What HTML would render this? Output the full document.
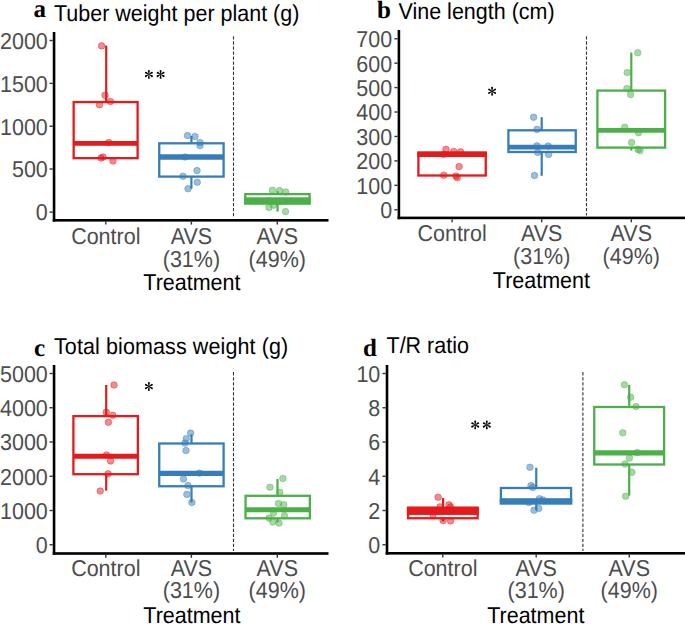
<!DOCTYPE html>
<html><head><meta charset="utf-8"><style>
html,body{margin:0;padding:0;background:#fff;width:685px;height:624px;overflow:hidden}
svg{display:block}
text{text-rendering:geometricPrecision}
</style></head><body>
<svg width="685" height="624" viewBox="0 0 685 624">
<rect width="685" height="624" fill="#fff"/>
<line x1="233.50" y1="36.30" x2="233.50" y2="217.60" stroke="#333333" stroke-width="1.1" stroke-dasharray="3.3 1.75"/>
<line x1="106.20" y1="45.60" x2="106.20" y2="102.05" stroke="#E41A1C" stroke-width="2.2"/>
<rect x="73.65" y="102.05" width="63.95" height="56.10" fill="none" stroke="#E41A1C" stroke-width="2.3"/>
<line x1="73.65" y1="143.30" x2="137.60" y2="143.30" stroke="#E41A1C" stroke-width="4.8"/>
<line x1="191.40" y1="136.00" x2="191.40" y2="143.30" stroke="#377EB8" stroke-width="2.2"/>
<line x1="191.40" y1="176.60" x2="191.40" y2="188.75" stroke="#377EB8" stroke-width="2.2"/>
<rect x="159.25" y="143.30" width="64.35" height="33.30" fill="none" stroke="#377EB8" stroke-width="2.3"/>
<line x1="159.25" y1="157.00" x2="223.60" y2="157.00" stroke="#377EB8" stroke-width="5.4"/>
<line x1="277.50" y1="191.10" x2="277.50" y2="194.10" stroke="#4DAF4A" stroke-width="2.2"/>
<line x1="277.50" y1="203.40" x2="277.50" y2="211.60" stroke="#4DAF4A" stroke-width="2.2"/>
<rect x="245.25" y="194.10" width="64.30" height="9.30" fill="none" stroke="#4DAF4A" stroke-width="2.3"/>
<line x1="245.25" y1="200.00" x2="309.55" y2="200.00" stroke="#4DAF4A" stroke-width="4.8"/>
<rect x="244.10" y="197.60" width="66.60" height="6.95" fill="#4DAF4A"/>
<circle cx="101.60" cy="45.90" r="3.3" fill="#E41A1C" fill-opacity="0.5" stroke="#E41A1C" stroke-opacity="0.5" stroke-width="0.8"/>
<circle cx="105.00" cy="95.25" r="3.3" fill="#E41A1C" fill-opacity="0.5" stroke="#E41A1C" stroke-opacity="0.5" stroke-width="0.8"/>
<circle cx="110.40" cy="101.50" r="3.3" fill="#E41A1C" fill-opacity="0.5" stroke="#E41A1C" stroke-opacity="0.5" stroke-width="0.8"/>
<circle cx="99.50" cy="104.75" r="3.3" fill="#E41A1C" fill-opacity="0.5" stroke="#E41A1C" stroke-opacity="0.5" stroke-width="0.8"/>
<circle cx="108.75" cy="142.50" r="3.3" fill="#E41A1C" fill-opacity="0.5" stroke="#E41A1C" stroke-opacity="0.5" stroke-width="0.8"/>
<circle cx="103.00" cy="157.00" r="3.3" fill="#E41A1C" fill-opacity="0.5" stroke="#E41A1C" stroke-opacity="0.5" stroke-width="0.8"/>
<circle cx="101.00" cy="158.00" r="3.3" fill="#E41A1C" fill-opacity="0.5" stroke="#E41A1C" stroke-opacity="0.5" stroke-width="0.8"/>
<circle cx="113.00" cy="161.00" r="3.3" fill="#E41A1C" fill-opacity="0.5" stroke="#E41A1C" stroke-opacity="0.5" stroke-width="0.8"/>
<circle cx="187.50" cy="135.60" r="3.3" fill="#377EB8" fill-opacity="0.5" stroke="#377EB8" stroke-opacity="0.5" stroke-width="0.8"/>
<circle cx="195.00" cy="136.50" r="3.3" fill="#377EB8" fill-opacity="0.5" stroke="#377EB8" stroke-opacity="0.5" stroke-width="0.8"/>
<circle cx="200.00" cy="142.50" r="3.3" fill="#377EB8" fill-opacity="0.5" stroke="#377EB8" stroke-opacity="0.5" stroke-width="0.8"/>
<circle cx="200.00" cy="145.60" r="3.3" fill="#377EB8" fill-opacity="0.5" stroke="#377EB8" stroke-opacity="0.5" stroke-width="0.8"/>
<circle cx="185.00" cy="157.00" r="3.3" fill="#377EB8" fill-opacity="0.5" stroke="#377EB8" stroke-opacity="0.5" stroke-width="0.8"/>
<circle cx="197.00" cy="170.60" r="3.3" fill="#377EB8" fill-opacity="0.5" stroke="#377EB8" stroke-opacity="0.5" stroke-width="0.8"/>
<circle cx="183.00" cy="176.25" r="3.3" fill="#377EB8" fill-opacity="0.5" stroke="#377EB8" stroke-opacity="0.5" stroke-width="0.8"/>
<circle cx="197.25" cy="182.25" r="3.3" fill="#377EB8" fill-opacity="0.5" stroke="#377EB8" stroke-opacity="0.5" stroke-width="0.8"/>
<circle cx="188.00" cy="188.75" r="3.3" fill="#377EB8" fill-opacity="0.5" stroke="#377EB8" stroke-opacity="0.5" stroke-width="0.8"/>
<circle cx="272.45" cy="190.30" r="3.3" fill="#4DAF4A" fill-opacity="0.5" stroke="#4DAF4A" stroke-opacity="0.5" stroke-width="0.8"/>
<circle cx="279.60" cy="190.60" r="3.3" fill="#4DAF4A" fill-opacity="0.5" stroke="#4DAF4A" stroke-opacity="0.5" stroke-width="0.8"/>
<circle cx="285.70" cy="192.00" r="3.3" fill="#4DAF4A" fill-opacity="0.5" stroke="#4DAF4A" stroke-opacity="0.5" stroke-width="0.8"/>
<circle cx="269.00" cy="207.40" r="3.3" fill="#4DAF4A" fill-opacity="0.5" stroke="#4DAF4A" stroke-opacity="0.5" stroke-width="0.8"/>
<circle cx="273.50" cy="205.20" r="3.3" fill="#4DAF4A" fill-opacity="0.5" stroke="#4DAF4A" stroke-opacity="0.5" stroke-width="0.8"/>
<circle cx="285.50" cy="211.60" r="3.3" fill="#4DAF4A" fill-opacity="0.5" stroke="#4DAF4A" stroke-opacity="0.5" stroke-width="0.8"/>
<circle cx="269.25" cy="201.00" r="3.3" fill="#4DAF4A" fill-opacity="0.5" stroke="#4DAF4A" stroke-opacity="0.5" stroke-width="0.8"/>
<circle cx="279.60" cy="201.50" r="3.3" fill="#4DAF4A" fill-opacity="0.5" stroke="#4DAF4A" stroke-opacity="0.5" stroke-width="0.8"/>
<circle cx="285.00" cy="201.00" r="3.3" fill="#4DAF4A" fill-opacity="0.5" stroke="#4DAF4A" stroke-opacity="0.5" stroke-width="0.8"/>
<rect x="52.75" y="32.00" width="2.60" height="189.60" fill="#000"/>
<rect x="52.75" y="219.00" width="275.75" height="2.60" fill="#000"/>
<line x1="49.55" y1="40.50" x2="52.75" y2="40.50" stroke="#333333" stroke-width="1.4"/>
<text x="47.80" y="48.30" text-anchor="end" fill="#4D4D4D" transform="matrix(1 0 0 1.07 0 -2.842)" style="font-family:&quot;Liberation Sans&quot;,serif;font-size:21.5px;font-weight:normal">2000</text>
<line x1="49.55" y1="83.40" x2="52.75" y2="83.40" stroke="#333333" stroke-width="1.4"/>
<text x="47.80" y="91.20" text-anchor="end" fill="#4D4D4D" transform="matrix(1 0 0 1.07 0 -5.845)" style="font-family:&quot;Liberation Sans&quot;,serif;font-size:21.5px;font-weight:normal">1500</text>
<line x1="49.55" y1="126.25" x2="52.75" y2="126.25" stroke="#333333" stroke-width="1.4"/>
<text x="47.80" y="134.05" text-anchor="end" fill="#4D4D4D" transform="matrix(1 0 0 1.07 0 -8.845)" style="font-family:&quot;Liberation Sans&quot;,serif;font-size:21.5px;font-weight:normal">1000</text>
<line x1="49.55" y1="169.00" x2="52.75" y2="169.00" stroke="#333333" stroke-width="1.4"/>
<text x="47.80" y="176.80" text-anchor="end" fill="#4D4D4D" transform="matrix(1 0 0 1.07 0 -11.837)" style="font-family:&quot;Liberation Sans&quot;,serif;font-size:21.5px;font-weight:normal">500</text>
<line x1="49.55" y1="212.10" x2="52.75" y2="212.10" stroke="#333333" stroke-width="1.4"/>
<text x="47.80" y="219.90" text-anchor="end" fill="#4D4D4D" transform="matrix(1 0 0 1.07 0 -14.854)" style="font-family:&quot;Liberation Sans&quot;,serif;font-size:21.5px;font-weight:normal">0</text>
<line x1="105.80" y1="221.60" x2="105.80" y2="224.60" stroke="#333333" stroke-width="1.4"/>
<line x1="191.40" y1="221.60" x2="191.40" y2="224.60" stroke="#333333" stroke-width="1.4"/>
<line x1="277.30" y1="221.60" x2="277.30" y2="224.60" stroke="#333333" stroke-width="1.4"/>
<text x="105.80" y="243.20" text-anchor="middle" fill="#4D4D4D" transform="matrix(1 0 0 1.07 0 -16.485)" style="font-family:&quot;Liberation Sans&quot;,serif;font-size:21.5px;font-weight:normal">Control</text>
<text x="191.40" y="243.20" text-anchor="middle" fill="#4D4D4D" transform="matrix(1 0 0 1.07 0 -16.485)" style="font-family:&quot;Liberation Sans&quot;,serif;font-size:21.5px;font-weight:normal">AVS</text>
<text x="191.40" y="266.20" text-anchor="middle" fill="#4D4D4D" transform="matrix(1 0 0 1.07 0 -18.095)" style="font-family:&quot;Liberation Sans&quot;,serif;font-size:21.5px;font-weight:normal">(31%)</text>
<text x="277.30" y="243.20" text-anchor="middle" fill="#4D4D4D" transform="matrix(1 0 0 1.07 0 -16.485)" style="font-family:&quot;Liberation Sans&quot;,serif;font-size:21.5px;font-weight:normal">AVS</text>
<text x="277.30" y="266.20" text-anchor="middle" fill="#4D4D4D" transform="matrix(1 0 0 1.07 0 -18.095)" style="font-family:&quot;Liberation Sans&quot;,serif;font-size:21.5px;font-weight:normal">(49%)</text>
<text x="191.90" y="289.10" text-anchor="middle" fill="#000" transform="matrix(1 0 0 1.07 0 -19.698)" style="font-family:&quot;Liberation Sans&quot;,serif;font-size:21.5px;font-weight:normal">Treatment</text>
<text x="33.50" y="17.30" text-anchor="start" fill="#000" style="font-family:&quot;Liberation Serif&quot;,serif;font-size:25px;font-weight:bold">a</text>
<text x="54.00" y="20.00" fill="#000" transform="matrix(1 0 0 1.07 0 -0.861)" style="font-family:&quot;Liberation Sans&quot;,sans-serif;font-size:21.5px;letter-spacing:0px">Tuber weight per plant (g)</text>
<g transform="translate(148.90 74.40)" fill="#000"><path d="M -0.25 0 L -0.95 -3.5 A 0.95 0.95 0 1 1 0.95 -3.5 L 0.25 0 Z" transform="rotate(0)"/><path d="M -0.25 0 L -0.95 -3.5 A 0.95 0.95 0 1 1 0.95 -3.5 L 0.25 0 Z" transform="rotate(60)"/><path d="M -0.25 0 L -0.95 -3.5 A 0.95 0.95 0 1 1 0.95 -3.5 L 0.25 0 Z" transform="rotate(120)"/><path d="M -0.25 0 L -0.95 -3.5 A 0.95 0.95 0 1 1 0.95 -3.5 L 0.25 0 Z" transform="rotate(180)"/><path d="M -0.25 0 L -0.95 -3.5 A 0.95 0.95 0 1 1 0.95 -3.5 L 0.25 0 Z" transform="rotate(240)"/><path d="M -0.25 0 L -0.95 -3.5 A 0.95 0.95 0 1 1 0.95 -3.5 L 0.25 0 Z" transform="rotate(300)"/></g>
<g transform="translate(160.60 74.40)" fill="#000"><path d="M -0.25 0 L -0.95 -3.5 A 0.95 0.95 0 1 1 0.95 -3.5 L 0.25 0 Z" transform="rotate(0)"/><path d="M -0.25 0 L -0.95 -3.5 A 0.95 0.95 0 1 1 0.95 -3.5 L 0.25 0 Z" transform="rotate(60)"/><path d="M -0.25 0 L -0.95 -3.5 A 0.95 0.95 0 1 1 0.95 -3.5 L 0.25 0 Z" transform="rotate(120)"/><path d="M -0.25 0 L -0.95 -3.5 A 0.95 0.95 0 1 1 0.95 -3.5 L 0.25 0 Z" transform="rotate(180)"/><path d="M -0.25 0 L -0.95 -3.5 A 0.95 0.95 0 1 1 0.95 -3.5 L 0.25 0 Z" transform="rotate(240)"/><path d="M -0.25 0 L -0.95 -3.5 A 0.95 0.95 0 1 1 0.95 -3.5 L 0.25 0 Z" transform="rotate(300)"/></g>
<line x1="586.50" y1="36.30" x2="586.50" y2="215.50" stroke="#333333" stroke-width="1.1" stroke-dasharray="3.3 1.75"/>
<rect x="418.40" y="152.70" width="67.35" height="22.80" fill="none" stroke="#E41A1C" stroke-width="2.3"/>
<line x1="418.40" y1="154.60" x2="485.75" y2="154.60" stroke="#E41A1C" stroke-width="4.8"/>
<rect x="417.25" y="151.55" width="69.65" height="5.45" fill="#E41A1C"/>
<line x1="541.70" y1="117.20" x2="541.70" y2="130.30" stroke="#377EB8" stroke-width="2.2"/>
<line x1="541.70" y1="152.00" x2="541.70" y2="175.80" stroke="#377EB8" stroke-width="2.2"/>
<rect x="508.40" y="130.30" width="67.35" height="21.70" fill="none" stroke="#377EB8" stroke-width="2.3"/>
<line x1="508.40" y1="147.10" x2="575.75" y2="147.10" stroke="#377EB8" stroke-width="4.8"/>
<line x1="631.30" y1="52.50" x2="631.30" y2="90.60" stroke="#4DAF4A" stroke-width="2.2"/>
<line x1="631.30" y1="147.60" x2="631.30" y2="150.60" stroke="#4DAF4A" stroke-width="2.2"/>
<rect x="597.40" y="90.60" width="67.70" height="57.00" fill="none" stroke="#4DAF4A" stroke-width="2.3"/>
<line x1="597.40" y1="130.40" x2="665.10" y2="130.40" stroke="#4DAF4A" stroke-width="4.8"/>
<circle cx="446.00" cy="149.40" r="3.3" fill="#E41A1C" fill-opacity="0.5" stroke="#E41A1C" stroke-opacity="0.5" stroke-width="0.8"/>
<circle cx="453.75" cy="151.50" r="3.3" fill="#E41A1C" fill-opacity="0.5" stroke="#E41A1C" stroke-opacity="0.5" stroke-width="0.8"/>
<circle cx="460.60" cy="151.90" r="3.3" fill="#E41A1C" fill-opacity="0.5" stroke="#E41A1C" stroke-opacity="0.5" stroke-width="0.8"/>
<circle cx="443.50" cy="154.40" r="3.3" fill="#E41A1C" fill-opacity="0.5" stroke="#E41A1C" stroke-opacity="0.5" stroke-width="0.8"/>
<circle cx="459.10" cy="166.60" r="3.3" fill="#E41A1C" fill-opacity="0.5" stroke="#E41A1C" stroke-opacity="0.5" stroke-width="0.8"/>
<circle cx="443.75" cy="175.25" r="3.3" fill="#E41A1C" fill-opacity="0.5" stroke="#E41A1C" stroke-opacity="0.5" stroke-width="0.8"/>
<circle cx="457.25" cy="177.75" r="3.3" fill="#E41A1C" fill-opacity="0.5" stroke="#E41A1C" stroke-opacity="0.5" stroke-width="0.8"/>
<circle cx="456.00" cy="176.00" r="3.3" fill="#E41A1C" fill-opacity="0.5" stroke="#E41A1C" stroke-opacity="0.5" stroke-width="0.8"/>
<circle cx="533.60" cy="117.20" r="3.3" fill="#377EB8" fill-opacity="0.5" stroke="#377EB8" stroke-opacity="0.5" stroke-width="0.8"/>
<circle cx="537.00" cy="129.40" r="3.3" fill="#377EB8" fill-opacity="0.5" stroke="#377EB8" stroke-opacity="0.5" stroke-width="0.8"/>
<circle cx="537.00" cy="145.80" r="3.3" fill="#377EB8" fill-opacity="0.5" stroke="#377EB8" stroke-opacity="0.5" stroke-width="0.8"/>
<circle cx="548.30" cy="146.00" r="3.3" fill="#377EB8" fill-opacity="0.5" stroke="#377EB8" stroke-opacity="0.5" stroke-width="0.8"/>
<circle cx="537.80" cy="152.40" r="3.3" fill="#377EB8" fill-opacity="0.5" stroke="#377EB8" stroke-opacity="0.5" stroke-width="0.8"/>
<circle cx="548.60" cy="154.40" r="3.3" fill="#377EB8" fill-opacity="0.5" stroke="#377EB8" stroke-opacity="0.5" stroke-width="0.8"/>
<circle cx="534.50" cy="175.50" r="3.3" fill="#377EB8" fill-opacity="0.5" stroke="#377EB8" stroke-opacity="0.5" stroke-width="0.8"/>
<circle cx="637.75" cy="52.75" r="3.3" fill="#4DAF4A" fill-opacity="0.5" stroke="#4DAF4A" stroke-opacity="0.5" stroke-width="0.8"/>
<circle cx="627.25" cy="72.50" r="3.3" fill="#4DAF4A" fill-opacity="0.5" stroke="#4DAF4A" stroke-opacity="0.5" stroke-width="0.8"/>
<circle cx="626.90" cy="88.50" r="3.3" fill="#4DAF4A" fill-opacity="0.5" stroke="#4DAF4A" stroke-opacity="0.5" stroke-width="0.8"/>
<circle cx="630.60" cy="94.60" r="3.3" fill="#4DAF4A" fill-opacity="0.5" stroke="#4DAF4A" stroke-opacity="0.5" stroke-width="0.8"/>
<circle cx="624.75" cy="127.25" r="3.3" fill="#4DAF4A" fill-opacity="0.5" stroke="#4DAF4A" stroke-opacity="0.5" stroke-width="0.8"/>
<circle cx="638.50" cy="132.75" r="3.3" fill="#4DAF4A" fill-opacity="0.5" stroke="#4DAF4A" stroke-opacity="0.5" stroke-width="0.8"/>
<circle cx="631.60" cy="142.50" r="3.3" fill="#4DAF4A" fill-opacity="0.5" stroke="#4DAF4A" stroke-opacity="0.5" stroke-width="0.8"/>
<circle cx="638.10" cy="149.40" r="3.3" fill="#4DAF4A" fill-opacity="0.5" stroke="#4DAF4A" stroke-opacity="0.5" stroke-width="0.8"/>
<circle cx="640.00" cy="150.60" r="3.3" fill="#4DAF4A" fill-opacity="0.5" stroke="#4DAF4A" stroke-opacity="0.5" stroke-width="0.8"/>
<rect x="397.60" y="30.00" width="2.60" height="189.20" fill="#000"/>
<rect x="397.60" y="216.60" width="287.40" height="2.60" fill="#000"/>
<line x1="394.40" y1="209.75" x2="397.60" y2="209.75" stroke="#333333" stroke-width="1.4"/>
<text x="392.20" y="217.55" text-anchor="end" fill="#4D4D4D" transform="matrix(1 0 0 1.07 0 -14.690)" style="font-family:&quot;Liberation Sans&quot;,serif;font-size:21.5px;font-weight:normal">0</text>
<line x1="394.40" y1="185.32" x2="397.60" y2="185.32" stroke="#333333" stroke-width="1.4"/>
<text x="392.20" y="193.12" text-anchor="end" fill="#4D4D4D" transform="matrix(1 0 0 1.07 0 -12.980)" style="font-family:&quot;Liberation Sans&quot;,serif;font-size:21.5px;font-weight:normal">100</text>
<line x1="394.40" y1="160.89" x2="397.60" y2="160.89" stroke="#333333" stroke-width="1.4"/>
<text x="392.20" y="168.69" text-anchor="end" fill="#4D4D4D" transform="matrix(1 0 0 1.07 0 -11.270)" style="font-family:&quot;Liberation Sans&quot;,serif;font-size:21.5px;font-weight:normal">200</text>
<line x1="394.40" y1="136.46" x2="397.60" y2="136.46" stroke="#333333" stroke-width="1.4"/>
<text x="392.20" y="144.26" text-anchor="end" fill="#4D4D4D" transform="matrix(1 0 0 1.07 0 -9.559)" style="font-family:&quot;Liberation Sans&quot;,serif;font-size:21.5px;font-weight:normal">300</text>
<line x1="394.40" y1="112.03" x2="397.60" y2="112.03" stroke="#333333" stroke-width="1.4"/>
<text x="392.20" y="119.83" text-anchor="end" fill="#4D4D4D" transform="matrix(1 0 0 1.07 0 -7.849)" style="font-family:&quot;Liberation Sans&quot;,serif;font-size:21.5px;font-weight:normal">400</text>
<line x1="394.40" y1="87.60" x2="397.60" y2="87.60" stroke="#333333" stroke-width="1.4"/>
<text x="392.20" y="95.40" text-anchor="end" fill="#4D4D4D" transform="matrix(1 0 0 1.07 0 -6.139)" style="font-family:&quot;Liberation Sans&quot;,serif;font-size:21.5px;font-weight:normal">500</text>
<line x1="394.40" y1="63.17" x2="397.60" y2="63.17" stroke="#333333" stroke-width="1.4"/>
<text x="392.20" y="70.97" text-anchor="end" fill="#4D4D4D" transform="matrix(1 0 0 1.07 0 -4.429)" style="font-family:&quot;Liberation Sans&quot;,serif;font-size:21.5px;font-weight:normal">600</text>
<line x1="394.40" y1="38.74" x2="397.60" y2="38.74" stroke="#333333" stroke-width="1.4"/>
<text x="392.20" y="46.54" text-anchor="end" fill="#4D4D4D" transform="matrix(1 0 0 1.07 0 -2.719)" style="font-family:&quot;Liberation Sans&quot;,serif;font-size:21.5px;font-weight:normal">700</text>
<line x1="452.10" y1="219.20" x2="452.10" y2="222.20" stroke="#333333" stroke-width="1.4"/>
<line x1="541.70" y1="219.20" x2="541.70" y2="222.20" stroke="#333333" stroke-width="1.4"/>
<line x1="631.30" y1="219.20" x2="631.30" y2="222.20" stroke="#333333" stroke-width="1.4"/>
<text x="452.10" y="240.60" text-anchor="middle" fill="#4D4D4D" transform="matrix(1 0 0 1.07 0 -16.303)" style="font-family:&quot;Liberation Sans&quot;,serif;font-size:21.5px;font-weight:normal">Control</text>
<text x="541.70" y="240.60" text-anchor="middle" fill="#4D4D4D" transform="matrix(1 0 0 1.07 0 -16.303)" style="font-family:&quot;Liberation Sans&quot;,serif;font-size:21.5px;font-weight:normal">AVS</text>
<text x="541.70" y="263.20" text-anchor="middle" fill="#4D4D4D" transform="matrix(1 0 0 1.07 0 -17.885)" style="font-family:&quot;Liberation Sans&quot;,serif;font-size:21.5px;font-weight:normal">(31%)</text>
<text x="631.30" y="240.60" text-anchor="middle" fill="#4D4D4D" transform="matrix(1 0 0 1.07 0 -16.303)" style="font-family:&quot;Liberation Sans&quot;,serif;font-size:21.5px;font-weight:normal">AVS</text>
<text x="631.30" y="263.20" text-anchor="middle" fill="#4D4D4D" transform="matrix(1 0 0 1.07 0 -17.885)" style="font-family:&quot;Liberation Sans&quot;,serif;font-size:21.5px;font-weight:normal">(49%)</text>
<text x="541.40" y="287.10" text-anchor="middle" fill="#000" transform="matrix(1 0 0 1.07 0 -19.558)" style="font-family:&quot;Liberation Sans&quot;,serif;font-size:21.5px;font-weight:normal">Treatment</text>
<text x="377.00" y="17.50" text-anchor="start" fill="#000" style="font-family:&quot;Liberation Serif&quot;,serif;font-size:25px;font-weight:bold">b</text>
<text x="398.50" y="18.20" fill="#000" transform="matrix(1 0 0 1.07 0 -0.735)" style="font-family:&quot;Liberation Sans&quot;,sans-serif;font-size:21.5px;letter-spacing:0px">Vine length (cm)</text>
<g transform="translate(492.10 91.20)" fill="#000"><path d="M -0.25 0 L -0.95 -3.5 A 0.95 0.95 0 1 1 0.95 -3.5 L 0.25 0 Z" transform="rotate(0)"/><path d="M -0.25 0 L -0.95 -3.5 A 0.95 0.95 0 1 1 0.95 -3.5 L 0.25 0 Z" transform="rotate(60)"/><path d="M -0.25 0 L -0.95 -3.5 A 0.95 0.95 0 1 1 0.95 -3.5 L 0.25 0 Z" transform="rotate(120)"/><path d="M -0.25 0 L -0.95 -3.5 A 0.95 0.95 0 1 1 0.95 -3.5 L 0.25 0 Z" transform="rotate(180)"/><path d="M -0.25 0 L -0.95 -3.5 A 0.95 0.95 0 1 1 0.95 -3.5 L 0.25 0 Z" transform="rotate(240)"/><path d="M -0.25 0 L -0.95 -3.5 A 0.95 0.95 0 1 1 0.95 -3.5 L 0.25 0 Z" transform="rotate(300)"/></g>
<line x1="233.50" y1="372.10" x2="233.50" y2="551.00" stroke="#333333" stroke-width="1.1" stroke-dasharray="3.3 1.75"/>
<line x1="106.20" y1="385.00" x2="106.20" y2="416.10" stroke="#E41A1C" stroke-width="2.2"/>
<line x1="106.20" y1="474.20" x2="106.20" y2="490.60" stroke="#E41A1C" stroke-width="2.2"/>
<rect x="73.40" y="416.10" width="64.45" height="58.10" fill="none" stroke="#E41A1C" stroke-width="2.3"/>
<line x1="73.40" y1="456.25" x2="137.85" y2="456.25" stroke="#E41A1C" stroke-width="5.2"/>
<line x1="191.50" y1="434.40" x2="191.50" y2="443.50" stroke="#377EB8" stroke-width="2.2"/>
<line x1="191.50" y1="486.25" x2="191.50" y2="502.50" stroke="#377EB8" stroke-width="2.2"/>
<rect x="159.25" y="443.50" width="64.35" height="42.75" fill="none" stroke="#377EB8" stroke-width="2.3"/>
<line x1="159.25" y1="473.40" x2="223.60" y2="473.40" stroke="#377EB8" stroke-width="5.4"/>
<line x1="277.50" y1="479.00" x2="277.50" y2="495.80" stroke="#4DAF4A" stroke-width="2.2"/>
<line x1="277.50" y1="518.30" x2="277.50" y2="522.50" stroke="#4DAF4A" stroke-width="2.2"/>
<rect x="245.55" y="495.80" width="64.30" height="22.50" fill="none" stroke="#4DAF4A" stroke-width="2.3"/>
<line x1="245.55" y1="509.75" x2="309.85" y2="509.75" stroke="#4DAF4A" stroke-width="4.8"/>
<circle cx="114.00" cy="385.00" r="3.3" fill="#E41A1C" fill-opacity="0.5" stroke="#E41A1C" stroke-opacity="0.5" stroke-width="0.8"/>
<circle cx="106.25" cy="412.25" r="3.3" fill="#E41A1C" fill-opacity="0.5" stroke="#E41A1C" stroke-opacity="0.5" stroke-width="0.8"/>
<circle cx="112.75" cy="415.25" r="3.3" fill="#E41A1C" fill-opacity="0.5" stroke="#E41A1C" stroke-opacity="0.5" stroke-width="0.8"/>
<circle cx="108.40" cy="422.25" r="3.3" fill="#E41A1C" fill-opacity="0.5" stroke="#E41A1C" stroke-opacity="0.5" stroke-width="0.8"/>
<circle cx="106.50" cy="455.00" r="3.3" fill="#E41A1C" fill-opacity="0.5" stroke="#E41A1C" stroke-opacity="0.5" stroke-width="0.8"/>
<circle cx="110.60" cy="461.00" r="3.3" fill="#E41A1C" fill-opacity="0.5" stroke="#E41A1C" stroke-opacity="0.5" stroke-width="0.8"/>
<circle cx="108.10" cy="473.75" r="3.3" fill="#E41A1C" fill-opacity="0.5" stroke="#E41A1C" stroke-opacity="0.5" stroke-width="0.8"/>
<circle cx="100.25" cy="491.00" r="3.3" fill="#E41A1C" fill-opacity="0.5" stroke="#E41A1C" stroke-opacity="0.5" stroke-width="0.8"/>
<circle cx="190.60" cy="433.10" r="3.3" fill="#377EB8" fill-opacity="0.5" stroke="#377EB8" stroke-opacity="0.5" stroke-width="0.8"/>
<circle cx="186.25" cy="438.75" r="3.3" fill="#377EB8" fill-opacity="0.5" stroke="#377EB8" stroke-opacity="0.5" stroke-width="0.8"/>
<circle cx="185.00" cy="443.10" r="3.3" fill="#377EB8" fill-opacity="0.5" stroke="#377EB8" stroke-opacity="0.5" stroke-width="0.8"/>
<circle cx="186.00" cy="450.60" r="3.3" fill="#377EB8" fill-opacity="0.5" stroke="#377EB8" stroke-opacity="0.5" stroke-width="0.8"/>
<circle cx="199.40" cy="473.10" r="3.3" fill="#377EB8" fill-opacity="0.5" stroke="#377EB8" stroke-opacity="0.5" stroke-width="0.8"/>
<circle cx="183.50" cy="479.00" r="3.3" fill="#377EB8" fill-opacity="0.5" stroke="#377EB8" stroke-opacity="0.5" stroke-width="0.8"/>
<circle cx="187.90" cy="485.60" r="3.3" fill="#377EB8" fill-opacity="0.5" stroke="#377EB8" stroke-opacity="0.5" stroke-width="0.8"/>
<circle cx="186.90" cy="494.40" r="3.3" fill="#377EB8" fill-opacity="0.5" stroke="#377EB8" stroke-opacity="0.5" stroke-width="0.8"/>
<circle cx="191.90" cy="502.50" r="3.3" fill="#377EB8" fill-opacity="0.5" stroke="#377EB8" stroke-opacity="0.5" stroke-width="0.8"/>
<circle cx="282.90" cy="478.50" r="3.3" fill="#4DAF4A" fill-opacity="0.5" stroke="#4DAF4A" stroke-opacity="0.5" stroke-width="0.8"/>
<circle cx="270.00" cy="487.25" r="3.3" fill="#4DAF4A" fill-opacity="0.5" stroke="#4DAF4A" stroke-opacity="0.5" stroke-width="0.8"/>
<circle cx="279.75" cy="492.25" r="3.3" fill="#4DAF4A" fill-opacity="0.5" stroke="#4DAF4A" stroke-opacity="0.5" stroke-width="0.8"/>
<circle cx="278.50" cy="503.50" r="3.3" fill="#4DAF4A" fill-opacity="0.5" stroke="#4DAF4A" stroke-opacity="0.5" stroke-width="0.8"/>
<circle cx="283.75" cy="504.75" r="3.3" fill="#4DAF4A" fill-opacity="0.5" stroke="#4DAF4A" stroke-opacity="0.5" stroke-width="0.8"/>
<circle cx="273.50" cy="513.10" r="3.3" fill="#4DAF4A" fill-opacity="0.5" stroke="#4DAF4A" stroke-opacity="0.5" stroke-width="0.8"/>
<circle cx="284.40" cy="515.60" r="3.3" fill="#4DAF4A" fill-opacity="0.5" stroke="#4DAF4A" stroke-opacity="0.5" stroke-width="0.8"/>
<circle cx="269.00" cy="518.10" r="3.3" fill="#4DAF4A" fill-opacity="0.5" stroke="#4DAF4A" stroke-opacity="0.5" stroke-width="0.8"/>
<circle cx="272.75" cy="521.90" r="3.3" fill="#4DAF4A" fill-opacity="0.5" stroke="#4DAF4A" stroke-opacity="0.5" stroke-width="0.8"/>
<circle cx="279.00" cy="523.10" r="3.3" fill="#4DAF4A" fill-opacity="0.5" stroke="#4DAF4A" stroke-opacity="0.5" stroke-width="0.8"/>
<rect x="52.75" y="365.00" width="2.60" height="189.80" fill="#000"/>
<rect x="52.75" y="552.20" width="275.75" height="2.60" fill="#000"/>
<line x1="49.55" y1="544.75" x2="52.75" y2="544.75" stroke="#333333" stroke-width="1.4"/>
<text x="47.80" y="552.55" text-anchor="end" fill="#4D4D4D" transform="matrix(1 0 0 1.07 0 -38.140)" style="font-family:&quot;Liberation Sans&quot;,serif;font-size:21.5px;font-weight:normal">0</text>
<line x1="49.55" y1="510.50" x2="52.75" y2="510.50" stroke="#333333" stroke-width="1.4"/>
<text x="47.80" y="518.30" text-anchor="end" fill="#4D4D4D" transform="matrix(1 0 0 1.07 0 -35.742)" style="font-family:&quot;Liberation Sans&quot;,serif;font-size:21.5px;font-weight:normal">1000</text>
<line x1="49.55" y1="476.25" x2="52.75" y2="476.25" stroke="#333333" stroke-width="1.4"/>
<text x="47.80" y="484.05" text-anchor="end" fill="#4D4D4D" transform="matrix(1 0 0 1.07 0 -33.345)" style="font-family:&quot;Liberation Sans&quot;,serif;font-size:21.5px;font-weight:normal">2000</text>
<line x1="49.55" y1="442.00" x2="52.75" y2="442.00" stroke="#333333" stroke-width="1.4"/>
<text x="47.80" y="449.80" text-anchor="end" fill="#4D4D4D" transform="matrix(1 0 0 1.07 0 -30.947)" style="font-family:&quot;Liberation Sans&quot;,serif;font-size:21.5px;font-weight:normal">3000</text>
<line x1="49.55" y1="407.75" x2="52.75" y2="407.75" stroke="#333333" stroke-width="1.4"/>
<text x="47.80" y="415.55" text-anchor="end" fill="#4D4D4D" transform="matrix(1 0 0 1.07 0 -28.550)" style="font-family:&quot;Liberation Sans&quot;,serif;font-size:21.5px;font-weight:normal">4000</text>
<line x1="49.55" y1="373.50" x2="52.75" y2="373.50" stroke="#333333" stroke-width="1.4"/>
<text x="47.80" y="381.30" text-anchor="end" fill="#4D4D4D" transform="matrix(1 0 0 1.07 0 -26.152)" style="font-family:&quot;Liberation Sans&quot;,serif;font-size:21.5px;font-weight:normal">5000</text>
<line x1="105.80" y1="554.80" x2="105.80" y2="557.80" stroke="#333333" stroke-width="1.4"/>
<line x1="191.40" y1="554.80" x2="191.40" y2="557.80" stroke="#333333" stroke-width="1.4"/>
<line x1="277.30" y1="554.80" x2="277.30" y2="557.80" stroke="#333333" stroke-width="1.4"/>
<text x="105.80" y="575.40" text-anchor="middle" fill="#4D4D4D" transform="matrix(1 0 0 1.07 0 -39.739)" style="font-family:&quot;Liberation Sans&quot;,serif;font-size:21.5px;font-weight:normal">Control</text>
<text x="191.40" y="575.40" text-anchor="middle" fill="#4D4D4D" transform="matrix(1 0 0 1.07 0 -39.739)" style="font-family:&quot;Liberation Sans&quot;,serif;font-size:21.5px;font-weight:normal">AVS</text>
<text x="191.40" y="597.70" text-anchor="middle" fill="#4D4D4D" transform="matrix(1 0 0 1.07 0 -41.300)" style="font-family:&quot;Liberation Sans&quot;,serif;font-size:21.5px;font-weight:normal">(31%)</text>
<text x="277.30" y="575.40" text-anchor="middle" fill="#4D4D4D" transform="matrix(1 0 0 1.07 0 -39.739)" style="font-family:&quot;Liberation Sans&quot;,serif;font-size:21.5px;font-weight:normal">AVS</text>
<text x="277.30" y="597.70" text-anchor="middle" fill="#4D4D4D" transform="matrix(1 0 0 1.07 0 -41.300)" style="font-family:&quot;Liberation Sans&quot;,serif;font-size:21.5px;font-weight:normal">(49%)</text>
<text x="191.90" y="622.10" text-anchor="middle" fill="#000" transform="matrix(1 0 0 1.07 0 -43.008)" style="font-family:&quot;Liberation Sans&quot;,serif;font-size:21.5px;font-weight:normal">Treatment</text>
<text x="34.00" y="356.20" text-anchor="start" fill="#000" style="font-family:&quot;Liberation Serif&quot;,serif;font-size:25px;font-weight:bold">c</text>
<text x="54.00" y="353.10" fill="#000" transform="matrix(1 0 0 1.07 0 -24.178)" style="font-family:&quot;Liberation Sans&quot;,sans-serif;font-size:21.5px;letter-spacing:0.1px">Total biomass weight (g)</text>
<g transform="translate(148.90 386.50)" fill="#000"><path d="M -0.25 0 L -0.95 -3.5 A 0.95 0.95 0 1 1 0.95 -3.5 L 0.25 0 Z" transform="rotate(0)"/><path d="M -0.25 0 L -0.95 -3.5 A 0.95 0.95 0 1 1 0.95 -3.5 L 0.25 0 Z" transform="rotate(60)"/><path d="M -0.25 0 L -0.95 -3.5 A 0.95 0.95 0 1 1 0.95 -3.5 L 0.25 0 Z" transform="rotate(120)"/><path d="M -0.25 0 L -0.95 -3.5 A 0.95 0.95 0 1 1 0.95 -3.5 L 0.25 0 Z" transform="rotate(180)"/><path d="M -0.25 0 L -0.95 -3.5 A 0.95 0.95 0 1 1 0.95 -3.5 L 0.25 0 Z" transform="rotate(240)"/><path d="M -0.25 0 L -0.95 -3.5 A 0.95 0.95 0 1 1 0.95 -3.5 L 0.25 0 Z" transform="rotate(300)"/></g>
<line x1="582.90" y1="372.10" x2="582.90" y2="551.00" stroke="#333333" stroke-width="1.1" stroke-dasharray="3.3 1.75"/>
<line x1="443.10" y1="497.90" x2="443.10" y2="507.85" stroke="#E41A1C" stroke-width="2.2"/>
<line x1="443.10" y1="518.25" x2="443.10" y2="521.40" stroke="#E41A1C" stroke-width="2.2"/>
<rect x="408.05" y="507.85" width="69.55" height="10.40" fill="none" stroke="#E41A1C" stroke-width="2.3"/>
<line x1="408.05" y1="512.30" x2="477.60" y2="512.30" stroke="#E41A1C" stroke-width="4.8"/>
<rect x="406.90" y="506.70" width="71.85" height="8.00" fill="#E41A1C"/>
<line x1="536.25" y1="467.75" x2="536.25" y2="488.00" stroke="#377EB8" stroke-width="2.2"/>
<line x1="536.25" y1="503.30" x2="536.25" y2="510.00" stroke="#377EB8" stroke-width="2.2"/>
<rect x="500.90" y="488.00" width="70.20" height="15.30" fill="none" stroke="#377EB8" stroke-width="2.3"/>
<line x1="500.90" y1="500.80" x2="571.10" y2="500.80" stroke="#377EB8" stroke-width="4.8"/>
<rect x="499.75" y="498.40" width="72.50" height="6.05" fill="#377EB8"/>
<line x1="629.20" y1="385.00" x2="629.20" y2="407.00" stroke="#4DAF4A" stroke-width="2.2"/>
<line x1="629.20" y1="464.50" x2="629.20" y2="495.60" stroke="#4DAF4A" stroke-width="2.2"/>
<rect x="594.25" y="407.00" width="69.85" height="57.50" fill="none" stroke="#4DAF4A" stroke-width="2.3"/>
<line x1="594.25" y1="452.90" x2="664.10" y2="452.90" stroke="#4DAF4A" stroke-width="5.1"/>
<circle cx="438.10" cy="497.25" r="3.3" fill="#E41A1C" fill-opacity="0.5" stroke="#E41A1C" stroke-opacity="0.5" stroke-width="0.8"/>
<circle cx="449.00" cy="504.75" r="3.3" fill="#E41A1C" fill-opacity="0.5" stroke="#E41A1C" stroke-opacity="0.5" stroke-width="0.8"/>
<circle cx="450.60" cy="506.90" r="3.3" fill="#E41A1C" fill-opacity="0.5" stroke="#E41A1C" stroke-opacity="0.5" stroke-width="0.8"/>
<circle cx="440.00" cy="506.90" r="3.3" fill="#E41A1C" fill-opacity="0.5" stroke="#E41A1C" stroke-opacity="0.5" stroke-width="0.8"/>
<circle cx="443.10" cy="520.60" r="3.3" fill="#E41A1C" fill-opacity="0.5" stroke="#E41A1C" stroke-opacity="0.5" stroke-width="0.8"/>
<circle cx="450.60" cy="521.00" r="3.3" fill="#E41A1C" fill-opacity="0.5" stroke="#E41A1C" stroke-opacity="0.5" stroke-width="0.8"/>
<circle cx="433.00" cy="514.40" r="3.3" fill="#E41A1C" fill-opacity="0.5" stroke="#E41A1C" stroke-opacity="0.5" stroke-width="0.8"/>
<circle cx="530.00" cy="467.25" r="3.3" fill="#377EB8" fill-opacity="0.5" stroke="#377EB8" stroke-opacity="0.5" stroke-width="0.8"/>
<circle cx="531.00" cy="485.60" r="3.3" fill="#377EB8" fill-opacity="0.5" stroke="#377EB8" stroke-opacity="0.5" stroke-width="0.8"/>
<circle cx="532.75" cy="487.50" r="3.3" fill="#377EB8" fill-opacity="0.5" stroke="#377EB8" stroke-opacity="0.5" stroke-width="0.8"/>
<circle cx="539.40" cy="498.75" r="3.3" fill="#377EB8" fill-opacity="0.5" stroke="#377EB8" stroke-opacity="0.5" stroke-width="0.8"/>
<circle cx="543.00" cy="500.00" r="3.3" fill="#377EB8" fill-opacity="0.5" stroke="#377EB8" stroke-opacity="0.5" stroke-width="0.8"/>
<circle cx="528.75" cy="502.50" r="3.3" fill="#377EB8" fill-opacity="0.5" stroke="#377EB8" stroke-opacity="0.5" stroke-width="0.8"/>
<circle cx="538.75" cy="508.50" r="3.3" fill="#377EB8" fill-opacity="0.5" stroke="#377EB8" stroke-opacity="0.5" stroke-width="0.8"/>
<circle cx="534.00" cy="510.25" r="3.3" fill="#377EB8" fill-opacity="0.5" stroke="#377EB8" stroke-opacity="0.5" stroke-width="0.8"/>
<circle cx="624.40" cy="384.75" r="3.3" fill="#4DAF4A" fill-opacity="0.5" stroke="#4DAF4A" stroke-opacity="0.5" stroke-width="0.8"/>
<circle cx="630.60" cy="397.25" r="3.3" fill="#4DAF4A" fill-opacity="0.5" stroke="#4DAF4A" stroke-opacity="0.5" stroke-width="0.8"/>
<circle cx="636.00" cy="406.50" r="3.3" fill="#4DAF4A" fill-opacity="0.5" stroke="#4DAF4A" stroke-opacity="0.5" stroke-width="0.8"/>
<circle cx="622.75" cy="432.75" r="3.3" fill="#4DAF4A" fill-opacity="0.5" stroke="#4DAF4A" stroke-opacity="0.5" stroke-width="0.8"/>
<circle cx="637.25" cy="452.50" r="3.3" fill="#4DAF4A" fill-opacity="0.5" stroke="#4DAF4A" stroke-opacity="0.5" stroke-width="0.8"/>
<circle cx="629.40" cy="458.10" r="3.3" fill="#4DAF4A" fill-opacity="0.5" stroke="#4DAF4A" stroke-opacity="0.5" stroke-width="0.8"/>
<circle cx="625.00" cy="464.00" r="3.3" fill="#4DAF4A" fill-opacity="0.5" stroke="#4DAF4A" stroke-opacity="0.5" stroke-width="0.8"/>
<circle cx="631.90" cy="472.25" r="3.3" fill="#4DAF4A" fill-opacity="0.5" stroke="#4DAF4A" stroke-opacity="0.5" stroke-width="0.8"/>
<circle cx="625.60" cy="496.25" r="3.3" fill="#4DAF4A" fill-opacity="0.5" stroke="#4DAF4A" stroke-opacity="0.5" stroke-width="0.8"/>
<rect x="385.70" y="365.00" width="2.60" height="189.60" fill="#000"/>
<rect x="385.70" y="552.00" width="299.30" height="2.60" fill="#000"/>
<line x1="382.50" y1="544.75" x2="385.70" y2="544.75" stroke="#333333" stroke-width="1.4"/>
<text x="380.30" y="552.55" text-anchor="end" fill="#4D4D4D" transform="matrix(1 0 0 1.07 0 -38.140)" style="font-family:&quot;Liberation Sans&quot;,serif;font-size:21.5px;font-weight:normal">0</text>
<line x1="382.50" y1="510.50" x2="385.70" y2="510.50" stroke="#333333" stroke-width="1.4"/>
<text x="380.30" y="518.30" text-anchor="end" fill="#4D4D4D" transform="matrix(1 0 0 1.07 0 -35.742)" style="font-family:&quot;Liberation Sans&quot;,serif;font-size:21.5px;font-weight:normal">2</text>
<line x1="382.50" y1="476.25" x2="385.70" y2="476.25" stroke="#333333" stroke-width="1.4"/>
<text x="380.30" y="484.05" text-anchor="end" fill="#4D4D4D" transform="matrix(1 0 0 1.07 0 -33.345)" style="font-family:&quot;Liberation Sans&quot;,serif;font-size:21.5px;font-weight:normal">4</text>
<line x1="382.50" y1="442.00" x2="385.70" y2="442.00" stroke="#333333" stroke-width="1.4"/>
<text x="380.30" y="449.80" text-anchor="end" fill="#4D4D4D" transform="matrix(1 0 0 1.07 0 -30.947)" style="font-family:&quot;Liberation Sans&quot;,serif;font-size:21.5px;font-weight:normal">6</text>
<line x1="382.50" y1="407.75" x2="385.70" y2="407.75" stroke="#333333" stroke-width="1.4"/>
<text x="380.30" y="415.55" text-anchor="end" fill="#4D4D4D" transform="matrix(1 0 0 1.07 0 -28.550)" style="font-family:&quot;Liberation Sans&quot;,serif;font-size:21.5px;font-weight:normal">8</text>
<line x1="382.50" y1="373.50" x2="385.70" y2="373.50" stroke="#333333" stroke-width="1.4"/>
<text x="380.30" y="381.30" text-anchor="end" fill="#4D4D4D" transform="matrix(1 0 0 1.07 0 -26.152)" style="font-family:&quot;Liberation Sans&quot;,serif;font-size:21.5px;font-weight:normal">10</text>
<line x1="442.80" y1="554.60" x2="442.80" y2="557.60" stroke="#333333" stroke-width="1.4"/>
<line x1="536.20" y1="554.60" x2="536.20" y2="557.60" stroke="#333333" stroke-width="1.4"/>
<line x1="629.30" y1="554.60" x2="629.30" y2="557.60" stroke="#333333" stroke-width="1.4"/>
<text x="442.80" y="575.40" text-anchor="middle" fill="#4D4D4D" transform="matrix(1 0 0 1.07 0 -39.739)" style="font-family:&quot;Liberation Sans&quot;,serif;font-size:21.5px;font-weight:normal">Control</text>
<text x="536.20" y="575.40" text-anchor="middle" fill="#4D4D4D" transform="matrix(1 0 0 1.07 0 -39.739)" style="font-family:&quot;Liberation Sans&quot;,serif;font-size:21.5px;font-weight:normal">AVS</text>
<text x="536.20" y="597.90" text-anchor="middle" fill="#4D4D4D" transform="matrix(1 0 0 1.07 0 -41.314)" style="font-family:&quot;Liberation Sans&quot;,serif;font-size:21.5px;font-weight:normal">(31%)</text>
<text x="629.30" y="575.40" text-anchor="middle" fill="#4D4D4D" transform="matrix(1 0 0 1.07 0 -39.739)" style="font-family:&quot;Liberation Sans&quot;,serif;font-size:21.5px;font-weight:normal">AVS</text>
<text x="629.30" y="597.90" text-anchor="middle" fill="#4D4D4D" transform="matrix(1 0 0 1.07 0 -41.314)" style="font-family:&quot;Liberation Sans&quot;,serif;font-size:21.5px;font-weight:normal">(49%)</text>
<text x="535.80" y="622.10" text-anchor="middle" fill="#000" transform="matrix(1 0 0 1.07 0 -43.008)" style="font-family:&quot;Liberation Sans&quot;,serif;font-size:21.5px;font-weight:normal">Treatment</text>
<text x="363.00" y="356.20" text-anchor="start" fill="#000" style="font-family:&quot;Liberation Serif&quot;,serif;font-size:25px;font-weight:bold">d</text>
<text x="386.50" y="352.80" fill="#000" transform="matrix(1 0 0 1.07 0 -24.157)" style="font-family:&quot;Liberation Sans&quot;,sans-serif;font-size:21.5px;letter-spacing:0px">T/R ratio</text>
<g transform="translate(475.20 424.90)" fill="#000"><path d="M -0.25 0 L -0.95 -3.5 A 0.95 0.95 0 1 1 0.95 -3.5 L 0.25 0 Z" transform="rotate(0)"/><path d="M -0.25 0 L -0.95 -3.5 A 0.95 0.95 0 1 1 0.95 -3.5 L 0.25 0 Z" transform="rotate(60)"/><path d="M -0.25 0 L -0.95 -3.5 A 0.95 0.95 0 1 1 0.95 -3.5 L 0.25 0 Z" transform="rotate(120)"/><path d="M -0.25 0 L -0.95 -3.5 A 0.95 0.95 0 1 1 0.95 -3.5 L 0.25 0 Z" transform="rotate(180)"/><path d="M -0.25 0 L -0.95 -3.5 A 0.95 0.95 0 1 1 0.95 -3.5 L 0.25 0 Z" transform="rotate(240)"/><path d="M -0.25 0 L -0.95 -3.5 A 0.95 0.95 0 1 1 0.95 -3.5 L 0.25 0 Z" transform="rotate(300)"/></g>
<g transform="translate(486.80 424.90)" fill="#000"><path d="M -0.25 0 L -0.95 -3.5 A 0.95 0.95 0 1 1 0.95 -3.5 L 0.25 0 Z" transform="rotate(0)"/><path d="M -0.25 0 L -0.95 -3.5 A 0.95 0.95 0 1 1 0.95 -3.5 L 0.25 0 Z" transform="rotate(60)"/><path d="M -0.25 0 L -0.95 -3.5 A 0.95 0.95 0 1 1 0.95 -3.5 L 0.25 0 Z" transform="rotate(120)"/><path d="M -0.25 0 L -0.95 -3.5 A 0.95 0.95 0 1 1 0.95 -3.5 L 0.25 0 Z" transform="rotate(180)"/><path d="M -0.25 0 L -0.95 -3.5 A 0.95 0.95 0 1 1 0.95 -3.5 L 0.25 0 Z" transform="rotate(240)"/><path d="M -0.25 0 L -0.95 -3.5 A 0.95 0.95 0 1 1 0.95 -3.5 L 0.25 0 Z" transform="rotate(300)"/></g>
</svg></body></html>
